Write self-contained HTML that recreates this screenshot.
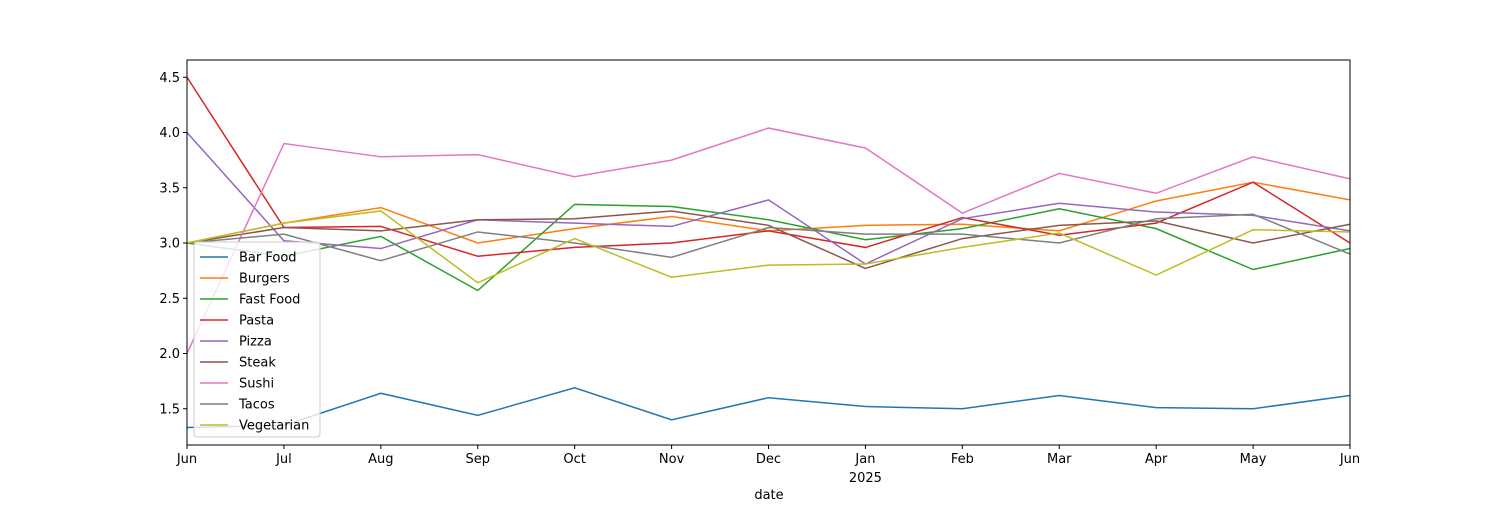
<!DOCTYPE html>
<html><head><meta charset="utf-8"><style>
body{margin:0;background:#fff;}
svg text{font-family:"DejaVu Sans","Liberation Sans",sans-serif;font-size:13px;fill:#000;}
</style></head><body>
<svg id="chart" width="1500" height="500" xmlns="http://www.w3.org/2000/svg"></svg>
<script>
const categories=["Jun","Jul","Aug","Sep","Oct","Nov","Dec","Jan","Feb","Mar","Apr","May","Jun"];
const seriesNames=["Bar Food","Burgers","Fast Food","Pasta","Pizza","Steak","Sushi","Tacos","Vegetarian"];
const barFood=[1.33,1.35,1.64,1.44,1.69,1.40,1.60,1.52,1.50,1.62,1.51,1.50,1.62];
const burgers=[3.0,3.18,3.32,3.0,3.13,3.24,3.11,3.16,3.17,3.11,3.38,3.55,3.39];
const fastFood=[3.0,2.88,3.06,2.57,3.35,3.33,3.21,3.03,3.13,3.31,3.13,2.76,2.95];
const pasta=[4.5,3.14,3.15,2.88,2.96,3.0,3.11,2.96,3.23,3.07,3.18,3.55,3.0];
const pizza=[4.0,3.02,2.95,3.21,3.18,3.15,3.39,2.81,3.22,3.36,3.28,3.25,3.11];
const steak=[3.0,3.14,3.11,3.21,3.22,3.29,3.16,2.77,3.04,3.16,3.20,3.00,3.17];
const sushi=[2.0,3.90,3.78,3.80,3.60,3.75,4.04,3.86,3.27,3.63,3.45,3.78,3.58];
const tacos=[3.0,3.08,2.84,3.10,3.0,2.87,3.14,3.08,3.08,3.00,3.22,3.26,2.90];
const vegetarian=[3.0,3.18,3.29,2.64,3.04,2.69,2.80,2.81,2.96,3.09,2.71,3.12,3.10];
const yTicks=[1.5,2.0,2.5,3.0,3.5,4.0,4.5];
const allSeries=[barFood,burgers,fastFood,pasta,pizza,steak,sushi,tacos,vegetarian];
const colors=["#1f77b4","#ff7f0e","#2ca02c","#d62728","#9467bd","#8c564b","#e377c2","#7f7f7f","#bcbd22"];
const L=187,R=1350,T=60,B=445;
const x=i=>L+(R-L)*i/(categories.length-1);
const y=v=>243-(v-3.0)*110.5;
const svg=document.getElementById('chart');
const NS="http://www.w3.org/2000/svg";
function mk(tag,attrs,parent){const e=document.createElementNS(NS,tag);for(const k in attrs)e.setAttribute(k,attrs[k]);(parent||svg).appendChild(e);return e;}
allSeries.forEach((s,si)=>{
  const p=mk('polyline',{points:s.map((v,i)=>x(i)+','+y(v)).join(' '),fill:'none',stroke:colors[si],'stroke-width':1.5});
  
  
});
const frame=mk('rect',{x:L,y:T,width:R-L,height:B-T,fill:'none',stroke:'#000','stroke-width':1});


yTicks.forEach(t=>{
  mk('line',{x1:L-4,x2:L,y1:y(t),y2:y(t),stroke:'#000'});
  const tx=mk('text',{x:L-7,y:y(t)+4.5,'text-anchor':'end'});tx.textContent=t.toFixed(1);
  
  
});
categories.forEach((c,i)=>{
  mk('line',{x1:x(i),x2:x(i),y1:B,y2:B+4,stroke:'#000'});
  const tx=mk('text',{x:x(i),y:B+18,'text-anchor':'middle'});tx.textContent=c;
  
  
});
const yr=mk('text',{x:x(7),y:B+37,'text-anchor':'middle'});yr.textContent='2025';


const xt=mk('text',{x:769,y:499,'text-anchor':'middle'});xt.textContent='date';


const lg=mk('g',{});


mk('rect',{x:194,y:242,width:126,height:195,rx:3,fill:'rgba(255,255,255,0.8)',stroke:'#ccc'},lg);
seriesNames.forEach((n,i)=>{
  const yy=257+i*21;
  mk('line',{x1:200,x2:228,y1:yy,y2:yy,stroke:colors[i],'stroke-width':1.5},lg);
  const t=mk('text',{x:239,y:yy+4.5},lg);t.textContent=n;
  
  
});
</script>
</body></html>
